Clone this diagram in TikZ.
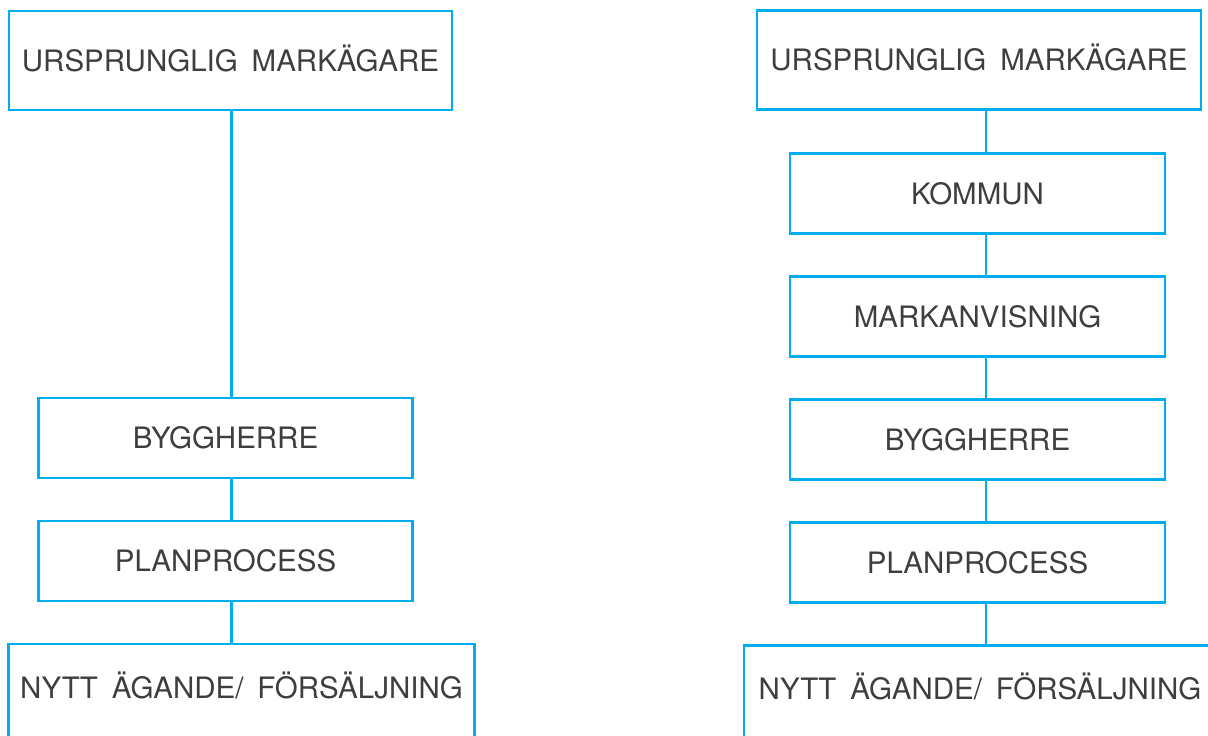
\documentclass[tikz,border=0pt]{standalone}
\usepackage{fontspec}
\setmainfont{TeX Gyre Heros}[WordSpace = 1.7]
\usetikzlibrary{positioning}
\definecolor{boxblue}{RGB}{0,174,239}
\definecolor{boxtext}{RGB}{62,62,62}
\begin{document}
\begin{tikzpicture}[x = 1pt, y = -1pt, node distance = 43pt,
   box/.style = {draw = boxblue, line width = 2.2pt, text = boxtext,
      font = \fontsize{29.5pt}{30pt}\selectfont, inner sep = 0pt, outer sep = 0pt,
      text height = 21.2pt, text depth = 0pt, minimum height = 80pt},
   lastbox/.style = {box, inner xsep = 0pt, inner ysep = 33pt, text depth = 70pt},
   link/.style = {draw = boxblue, line width = 2.2pt}]
   \useasboundingbox (0,0) rectangle (1208,736);
   \clip (0,0) rectangle (1208,736);
   \coordinate (spineL) at (231.5,0);
   \coordinate (spineR) at (986,0);
   \node[box, minimum width = 443pt, minimum height = 99pt] (ownerL) at (230.5,60.5) {URSPRUNGLIG MARKÄGARE};
   \node[box, minimum width = 374pt, below = 288pt of ownerL, xshift = -5pt] (builderL) {BYGGHERRE};
   \node[box, minimum width = 374pt, below = of builderL] (planL) {PLANPROCESS};
   \node[lastbox, minimum width = 466pt, below = of planL, xshift = 16pt] (saleL) {NYTT ÄGANDE/ FÖRSÄLJNING};
   \node[box, minimum width = 444pt, minimum height = 99pt] (ownerR) at (979,60) {URSPRUNGLIG MARKÄGARE};
   \node[box, minimum width = 375pt, below = 44pt of ownerR, xshift = -1.5pt] (councilR) {KOMMUN};
   \node[box, minimum width = 375pt, below = of councilR] (allocR) {MARKANVISNING};
   \node[box, minimum width = 375pt, below = of allocR] (builderR) {BYGGHERRE};
   \node[box, minimum width = 375pt, below = of builderR] (planR) {PLANPROCESS};
   \node[lastbox, minimum width = 472pt, below = of planR, xshift = 2.5pt] (saleR) {NYTT ÄGANDE/ FÖRSÄLJNING};
   \draw[link] (ownerL.south -| spineL) -- (builderL.north -| spineL);
   \draw[link] (builderL.south -| spineL) -- (planL.north -| spineL);
   \draw[link] (planL.south -| spineL) -- (saleL.north -| spineL);
   \draw[link] (ownerR.south -| spineR) -- (councilR.north -| spineR);
   \draw[link] (councilR.south -| spineR) -- (allocR.north -| spineR);
   \draw[link] (allocR.south -| spineR) -- (builderR.north -| spineR);
   \draw[link] (builderR.south -| spineR) -- (planR.north -| spineR);
   \draw[link] (planR.south -| spineR) -- (saleR.north -| spineR);
  \end{tikzpicture}
\end{document}
